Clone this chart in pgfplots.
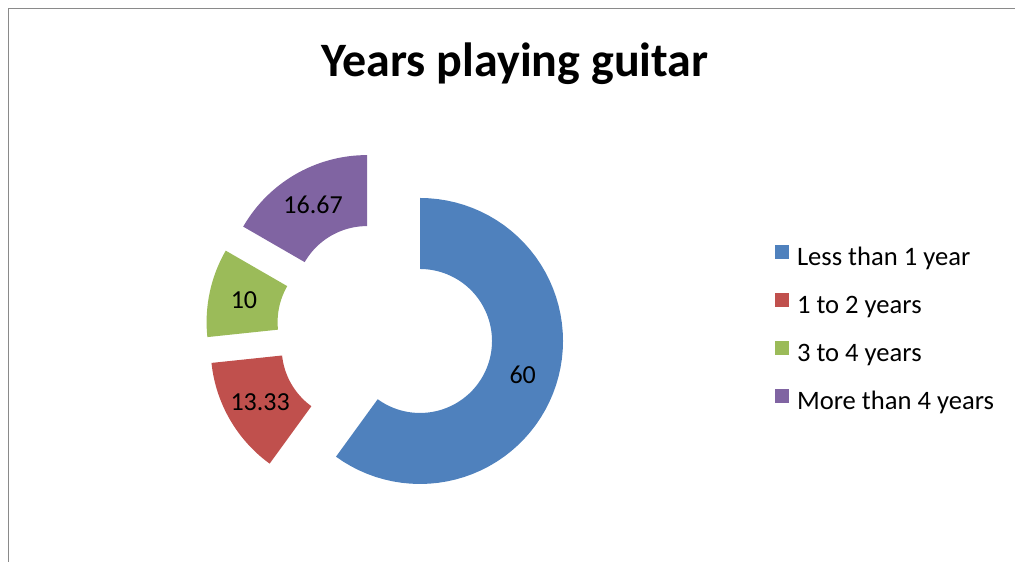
\documentclass[border=0pt]{standalone}
\usepackage{pgfplots}
\pgfplotsset{compat=1.18}
\usepackage{fontspec}
\setmainfont{Carlito}
\definecolor{sBlue}{HTML}{4F81BD}
\definecolor{sRed}{HTML}{C0504D}
\definecolor{sGreen}{HTML}{9BBB59}
\definecolor{sPurple}{HTML}{8064A2}
\definecolor{frameGray}{HTML}{8A8A8A}
\newcommand\lab{\fontsize{26}{30}\selectfont}
\newcommand\leg{\fontsize{26.6}{30}\selectfont}
% geometry (pixel units)
\def\R{143}\def\r{72}\def\Rl{108}\def\D{36.5}\def\Cx{385.3}\def\Cy{329.7}
% #1 cumulative start (percent), #2 value (percent), #3 colour, #4 label
\newcommand\slice[4]{%
 \pgfmathsetmacro\sa{3.6*#1}%
 \pgfmathsetmacro\sb{3.6*(#1+#2)}%
 \pgfmathsetmacro\sm{(\sa+\sb)/2}%
 \pgfmathsetmacro\scx{\Cx+\D*sin(\sm)}%
 \pgfmathsetmacro\scy{\Cy-\D*cos(\sm)}%
 \pgfmathsetmacro\slx{\scx+\Rl*sin(\sm)}%
 \pgfmathsetmacro\sly{\scy-\Rl*cos(\sm)}%
 \edef\doslice{%
  \noexpand\addplot[fill=#3, draw=none, samples at={0,1,...,60,100,101,...,160}, variable=\noexpand\t, forget plot]
   ({\scx+(\noexpand\t<80?\R:\r)*sin(\noexpand\t<80?\sa+(\sb-\sa)*\noexpand\t/60:\sb-(\sb-\sa)*(\noexpand\t-100)/60)},
    {\scy-(\noexpand\t<80?\R:\r)*cos(\noexpand\t<80?\sa+(\sb-\sa)*\noexpand\t/60:\sb-(\sb-\sa)*(\noexpand\t-100)/60)});
  \noexpand\node[font=\noexpand\lab, inner sep=0pt] at (axis cs:\slx,\sly) {#4};
 }\doslice}
\begin{document}
\begin{tikzpicture}
\begin{axis}[
  scale only axis, width=1015pt, height=562pt,
  xmin=0, xmax=1015, ymin=0, ymax=562, y dir=reverse,
  hide axis, clip=false,
  legend style={at={(axis cs:775,244.5)}, anchor=north west, draw=none, fill=none,
    inner sep=0pt, outer sep=0pt, font=\leg, row sep=21pt,
    nodes={inner sep=0pt, text height=18pt, text depth=6pt},
    /tikz/every odd column/.append style={column sep=8pt}},
  legend cell align=left,
  legend image code/.code={\fill[#1, draw=none] (0pt,1pt) rectangle (14pt,15pt);},
]
\slice{0}{60}{sBlue}{60}
\slice{60}{13.33}{sRed}{13.33}
\slice{73.33}{10}{sGreen}{10}
\slice{83.33}{16.67}{sPurple}{16.67}
\addlegendimage{fill=sBlue, draw=none}\addlegendentry{Less than 1 year}
\addlegendimage{fill=sRed, draw=none}\addlegendentry{1 to 2 years}
\addlegendimage{fill=sGreen, draw=none}\addlegendentry{3 to 4 years}
\addlegendimage{fill=sPurple, draw=none}\addlegendentry{More than 4 years}
\draw[frameGray, line width=1.5pt] (axis cs:8.5,562) -- (axis cs:8.5,8.5) -- (axis cs:1015,8.5);
\node[font=\bfseries\fontsize{48}{56}\selectfont, anchor=base] at (axis cs:515,76) {Years playing guitar};
\end{axis}
\pgfresetboundingbox
\path[use as bounding box] (current axis.south west) rectangle (current axis.north east);
\end{tikzpicture}
\end{document}
